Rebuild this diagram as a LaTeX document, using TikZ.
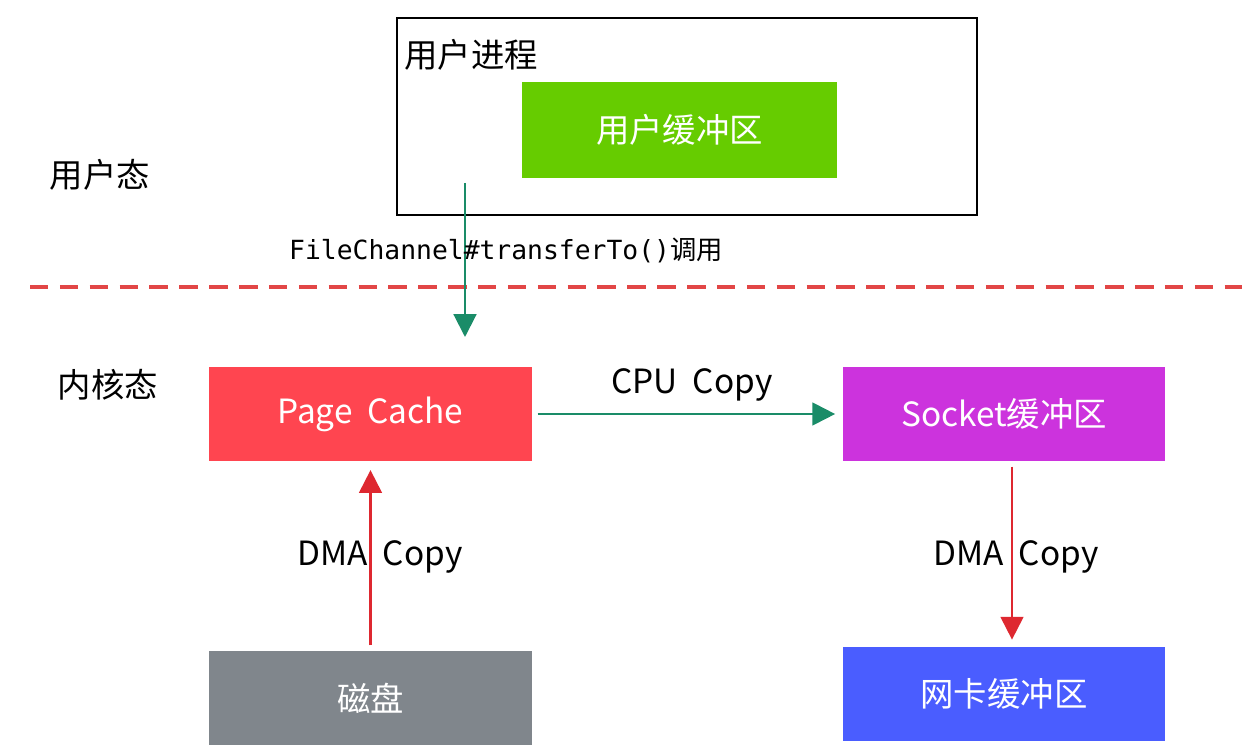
\documentclass[tikz,border=0pt]{standalone}
\usepackage{fontspec}
\setmainfont{Noto Sans CJK SC}
\setmonofont{DejaVu Sans Mono}
\usepackage{tikz}
\usetikzlibrary{arrows.meta, positioning}
\usepackage{xcolor}
\definecolor{ugreen}{RGB}{102,204,0}
\definecolor{pcred}{RGB}{255,69,80}
\definecolor{skpurple}{RGB}{204,51,221}
\definecolor{dkgray}{RGB}{128,134,140}
\definecolor{nicblue}{RGB}{74,93,255}
\definecolor{teal}{RGB}{26,140,104}
\definecolor{dmared}{RGB}{222,40,48}
\definecolor{sepred}{RGB}{226,70,70}

\begin{document}
\begin{tikzpicture}[x=0.02cm, y=-0.02cm,
    buf/.style={minimum width=6.46cm, minimum height=1.88cm, inner sep=0pt,
        text=white, font=\fontsize{19}{22}\selectfont},
    lbl/.style={font=\fontsize{19}{22}\selectfont, inner sep=0pt},
    cpyarrow/.style={line width=1.2pt, -{Triangle[width=13pt,length=13pt]}}]
    \useasboundingbox (0,0) rectangle (1242,750);

    % 用户态
    \node[draw, line width=1.6pt, minimum width=11.6cm, minimum height=3.94cm] (proc) at (687,116.5) {};
    \node[lbl, anchor=west] (procl) at (404,55) {用户进程};
    \node[buf, fill=ugreen, minimum width=6.3cm, minimum height=1.92cm] (ubuf) at (679.5,130) {用户缓冲区};
    \node[lbl] (ustate) at (100,175) {用户态};

    % 分隔线
    \coordinate (sepl) at (30,287);
    \coordinate (sepr) at (1242,287);
    \draw[sepred, line width=2pt, dash pattern=on 10.5pt off 6.5pt] (sepl) -- (sepr);

    % 系统调用
    \coordinate (callin) at (465,183);
    \coordinate (callout) at (465,337);
    \draw[cpyarrow, teal] (callin) -- (callout);
    \node[font=\fontsize{15}{17}\selectfont, inner sep=0pt] (calll) at (506,250) {\texttt{FileChannel\#transferTo()}调用};

    % 内核态
    \node[lbl] (kstate) at (108,385) {内核态};
    \node[buf, fill=pcred] (pc) at (370.5,414) {Page\ \ Cache};
    \node[buf, fill=skpurple] (sock) at (1004,414) {Socket缓冲区};
    \node[buf, fill=dkgray] (disk) at (370.5,698) {磁盘};
    \node[buf, fill=nicblue] (nic) at (1004,694) {网卡缓冲区};

    % 拷贝
    \draw[cpyarrow, teal, shorten <=3pt, shorten >=4pt] (pc) -- (sock);
    \node[lbl] (cpul) at (692,385) {CPU\ \ Copy};
    \draw[cpyarrow, dmared, shorten <=3pt, shorten >=5pt] (disk) -- (pc);
    \node[lbl] (dmal) at (380,557) {DMA\ \ Copy};
    \draw[cpyarrow, dmared, shorten <=3pt, shorten >=4pt] ([xshift=0.16cm]sock.south) -- ([xshift=0.16cm]nic.north);
    \node[lbl] (dmar) at (1016,557) {DMA\ \ Copy};
\end{tikzpicture}
\end{document}
